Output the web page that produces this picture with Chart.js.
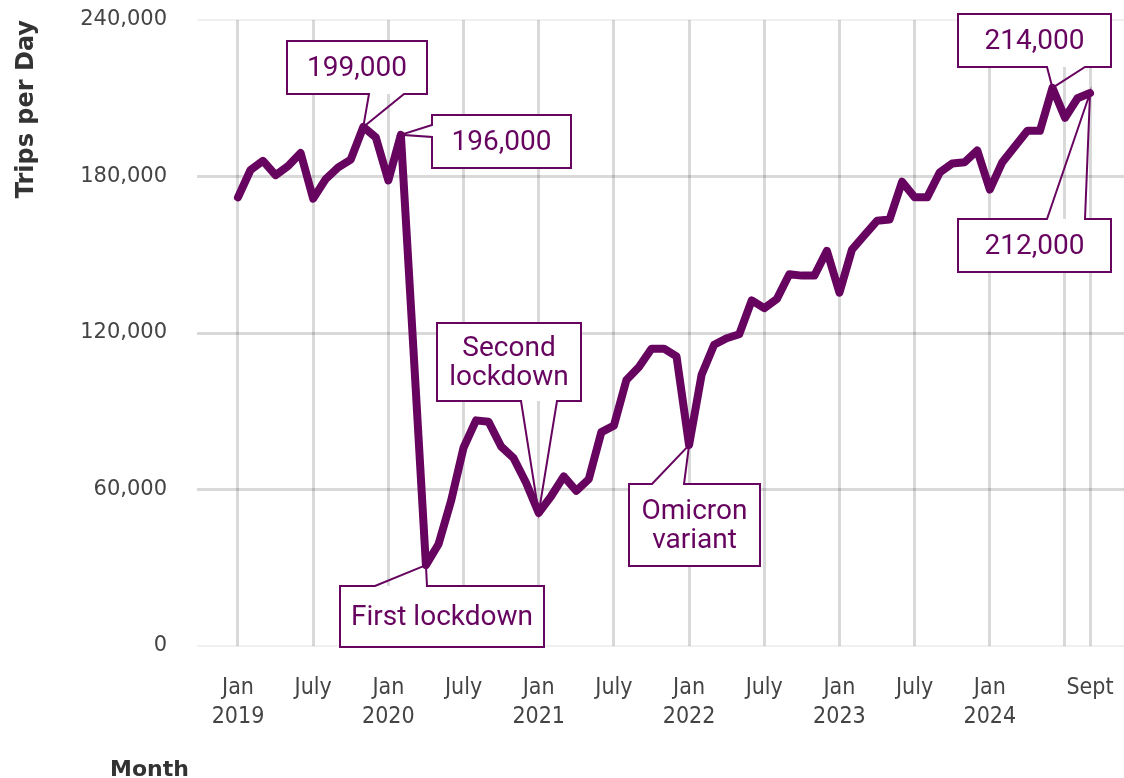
<!DOCTYPE html>
<html>
<head>
<meta charset="utf-8">
<title>Trips per Day</title>
<script src="https://cdn.jsdelivr.net/npm/chart.js@4.4.1/dist/chart.umd.min.js"></script>
<style>
  html, body { margin: 0; padding: 0; background: #ffffff; }
  #wrap { position: relative; width: 1124px; height: 778px; }
</style>
</head>
<body>
<div id="wrap"><canvas id="chart"></canvas></div>
<script>
// Average trips per day, one value per month from Jan 2019 (index 0) to Sept 2024 (index 68)
const trips2019 = [172000, 182500, 186000, 180500, 184000, 189000, 171500, 179000, 183500, 186500, 199000, 195000];
const trips2020 = [178500, 196000, 114000, 31000, 39000, 55500, 76000, 86500, 86000, 76500, 72000, 62500];
const trips2021 = [51000, 57500, 65000, 59500, 64000, 82000, 84500, 102000, 107000, 114000, 114000, 111000];
const trips2022 = [77000, 104000, 115500, 118000, 119500, 132500, 129500, 133000, 142500, 142000, 142000, 151500];
const trips2023 = [135500, 152000, 157500, 163000, 163500, 178000, 172000, 172000, 181500, 185000, 185500, 190000];
const trips2024 = [175000, 185500, 191500, 197500, 197500, 214000, 202500, 210000, 212000];
const trips = [...trips2019, ...trips2020, ...trips2021, ...trips2022, ...trips2023, ...trips2024];

// Axis ticks (months since Jan 2019) and their labels
const tickMonths = [0, 6, 12, 18, 24, 30, 36, 42, 48, 54, 60, 66, 68];
const tickLabels = [['Jan', '2019'], 'July', ['Jan', '2020'], 'July', ['Jan', '2021'], 'July',
                    ['Jan', '2022'], 'July', ['Jan', '2023'], 'July', ['Jan', '2024'], '', 'Sept'];
const valueTicks = [0, 60000, 120000, 180000, 240000];

// Callout notes: which month they point at and their text
const noteMonths = [10, 13, 15, 24, 36, 65, 68];
const noteTexts = [null, null, ['First lockdown'], ['Second', 'lockdown'], ['Omicron', 'variant'], null, null];

// Callout box placement (box centre in axis units, size and pointer base in px)
const noteBoxes = [
  { cx: 9.50,  cy: 221800, w: 140, h: 53, side: 'bottom', base: [82, 117] },
  { cx: 21.03, cy: 193400, w: 139, h: 53, side: 'left',   base: [10, 22] },
  { cx: 16.28, cy: 11500,  w: 204, h: 61, side: 'top',    base: [35, 87] },
  { cx: 21.63, cy: 108900, w: 144, h: 78, side: 'bottom', base: [84, 120] },
  { cx: 36.43, cy: 46400,  w: 131, h: 82, side: 'top',    base: [23, 55] },
  { cx: 63.57, cy: 232100, w: 153, h: 53, side: 'bottom', base: [89, 127] },
  { cx: 63.57, cy: 153500, w: 153, h: 53, side: 'top',    base: [89, 127] }
];

const PURPLE = '#66045f';
const fmt = v => v.toLocaleString('en-US');

const calloutPlugin = {
  id: 'callouts',
  afterDatasetsDraw(chart) {
    const { ctx, scales: { x, y } } = chart;
    ctx.save();
    noteMonths.forEach((m, i) => {
      const b = noteBoxes[i];
      const tipX = x.getPixelForValue(m);
      const tipY = y.getPixelForValue(trips[m]);
      const left = Math.round(x.getPixelForValue(b.cx) - b.w / 2);
      const top = Math.round(y.getPixelForValue(b.cy) - b.h / 2);
      const right = left + b.w, bottom = top + b.h;

      ctx.fillStyle = '#ffffff';
      ctx.fillRect(left, top, b.w, b.h);

      const pts = [];
      if (b.side === 'top') {
        pts.push([left, top], [left + b.base[0], top], [tipX, tipY], [left + b.base[1], top],
                 [right, top], [right, bottom], [left, bottom]);
      } else if (b.side === 'bottom') {
        pts.push([left, top], [right, top], [right, bottom], [left + b.base[1], bottom],
                 [tipX, tipY], [left + b.base[0], bottom], [left, bottom]);
      } else {
        pts.push([left, top], [right, top], [right, bottom], [left, bottom],
                 [left, top + b.base[1]], [tipX, tipY], [left, top + b.base[0]]);
      }
      ctx.beginPath();
      pts.forEach((p, k) => k ? ctx.lineTo(p[0], p[1]) : ctx.moveTo(p[0], p[1]));
      ctx.closePath();
      ctx.strokeStyle = PURPLE;
      ctx.lineWidth = 2;
      ctx.lineJoin = 'miter';
      ctx.stroke();

      const lines = noteTexts[i] || [fmt(trips[m])];
      ctx.fillStyle = PURPLE;
      ctx.font = '28px Roboto, "Liberation Sans", sans-serif';
      ctx.textAlign = 'center';
      ctx.textBaseline = 'middle';
      const lh = 29;
      const cy = top + b.h / 2;
      lines.forEach((t, k) => {
        ctx.fillText(t, left + b.w / 2, cy + (k - (lines.length - 1) / 2) * lh + 1);
      });
    });

    // x-axis title
    ctx.fillStyle = '#333333';
    ctx.font = 'bold 22px "DejaVu Sans", sans-serif';
    ctx.textAlign = 'left';
    ctx.textBaseline = 'alphabetic';
    ctx.fillText('Month', 110, 776);
    ctx.restore();
  }
};

new Chart(document.getElementById('chart'), {
  type: 'line',
  data: {
    datasets: [{
      data: trips.map((v, i) => ({ x: i, y: v })),
      borderColor: PURPLE,
      borderWidth: 8,
      borderJoinStyle: 'round',
      borderCapStyle: 'round',
      pointRadius: 0,
      tension: 0,
      fill: false
    }]
  },
  options: {
    responsive: true,
    maintainAspectRatio: false,
    animation: false,
    layout: { padding: { top: 20, right: 0, left: 0, bottom: 0 } },
    plugins: { legend: { display: false }, tooltip: { enabled: false } },
    scales: {
      x: {
        type: 'linear',
        min: -3.27,
        max: 70.71,
        afterBuildTicks(scale) { scale.ticks = tickMonths.map(v => ({ value: v })); },
        afterFit(scale) { scale.height = 132; },
        border: { display: false },
        grid: { color: 'rgba(0,0,0,0.15)', lineWidth: 3, drawTicks: true, tickLength: 28, tickColor: 'rgba(0,0,0,0)' },
        ticks: {
          autoSkip: false,
          maxRotation: 0,
          padding: 0,
          color: '#444444',
          font: { family: '"Liberation Sans Narrow", "DejaVu Sans Condensed", "Roboto Condensed", "Liberation Sans", sans-serif', size: 23, lineHeight: 1.25 },
          callback(value) {
            const k = tickMonths.indexOf(value);
            return k >= 0 ? tickLabels[k] : '';
          }
        }
      },
      y: {
        min: 0,
        max: 240000,
        afterBuildTicks(scale) { scale.ticks = valueTicks.map(v => ({ value: v })); },
        afterFit(scale) { scale.width = 197; },
        border: { display: false },
        grid: {
          drawTicks: true,
          tickLength: 30,
          tickColor: 'rgba(0,0,0,0)',
          lineWidth: ctx => (ctx.tick && (ctx.tick.value === 0 || ctx.tick.value === 240000)) ? 2 : 3,
          color: ctx => (ctx.tick && (ctx.tick.value === 0 || ctx.tick.value === 240000)) ? 'rgba(0,0,0,0.06)' : 'rgba(0,0,0,0.15)'
        },
        ticks: {
          padding: 0,
          color: '#444444',
          font: { family: '"DejaVu Sans", sans-serif', size: 21 },
          callback: v => fmt(v)
        },
        title: {
          display: true,
          text: 'Trips per Day',
          align: 'end',
          color: '#333333',
          font: { family: '"DejaVu Sans", sans-serif', size: 24, weight: 'bold' },
          padding: { top: 12, bottom: 0 }
        }
      }
    }
  },
  plugins: [calloutPlugin]
});
</script>
</body>
</html>
